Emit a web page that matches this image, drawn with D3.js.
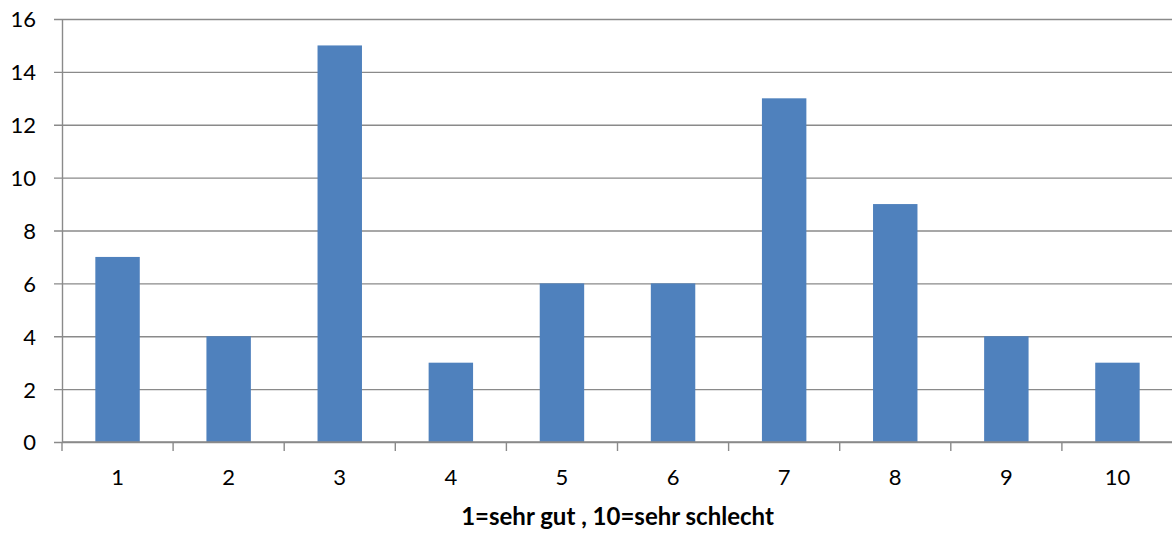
<!DOCTYPE html>
<html>
<head>
<meta charset="utf-8">
<script src="https://cdn.jsdelivr.net/npm/d3@7"></script>
<style>
  html, body { margin: 0; padding: 0; background: #fff; }
  svg { display: block; }
  text { font-family: Lato, "Open Sans", "Liberation Sans", sans-serif; fill: #000; }
</style>
</head>
<body>
<svg id="chart" width="1172" height="534"></svg>
<script>
// Ratings 1..10 and how many answers each got
const categories = ["1", "2", "3", "4", "5", "6", "7", "8", "9", "10"];
const counts = [7, 4, 15, 3, 6, 6, 13, 9, 4, 3];
const yTicks = [0, 2, 4, 6, 8, 10, 12, 14, 16];
const xTitle = "1=sehr gut , 10=sehr schlecht";

const svg = d3.select("#chart");
const plotLeft = 62, plotRight = 1173, plotTop = 19, plotBottom = 442;
const gridColor = "#8a8a8a";

const x = d3.scaleBand().domain(categories).range([plotLeft, plotRight])
  .paddingInner(0.6).paddingOuter(0.3);
const y = d3.scaleLinear().domain([0, 16]).range([plotBottom, plotTop]);

// horizontal gridlines with short ticks left of the axis
const yAxis = d3.axisLeft(y).tickValues(yTicks).tickSize(-(plotRight - plotLeft)).tickSizeOuter(0);
const gy = svg.append("g").attr("transform", `translate(${plotLeft},0)`).call(yAxis);
gy.select(".domain").attr("stroke", gridColor).attr("stroke-width", 1.4);
gy.selectAll(".tick line").attr("stroke", gridColor).attr("stroke-width", 1.4).attr("x1", -8);
gy.selectAll(".tick text").attr("font-size", 22).attr("x", -26).attr("dy", "0.36em")
  .attr("font-family", "Lato, 'Open Sans', sans-serif").attr("fill", "#000");

// bars
svg.append("g").selectAll("rect").data(counts).join("rect")
  .attr("x", (d, i) => x(categories[i]))
  .attr("width", x.bandwidth())
  .attr("y", d => y(d))
  .attr("height", d => y(0) - y(d))
  .attr("fill", "#4F81BD");

// category axis: ticks sit on the band boundaries
const bounds = categories.map(c => x(c) - x.step() * x.paddingInner() / 2);
bounds.push(plotRight);
const gx = svg.append("g");
gx.append("line").attr("x1", plotLeft).attr("x2", plotRight).attr("y1", plotBottom).attr("y2", plotBottom)
  .attr("stroke", gridColor).attr("stroke-width", 1.4);
gx.selectAll("line.tk").data(bounds).join("line").attr("class", "tk")
  .attr("x1", d => d).attr("x2", d => d).attr("y1", plotBottom).attr("y2", plotBottom + 9)
  .attr("stroke", gridColor).attr("stroke-width", 1.4);
gx.selectAll("text").data(categories).join("text")
  .attr("x", d => x(d) + x.bandwidth() / 2)
  .attr("y", 485)
  .attr("text-anchor", "middle")
  .attr("font-size", 22)
  .text(d => d);

// axis title
svg.append("text")
  .attr("x", (plotLeft + plotRight) / 2)
  .attr("y", 525)
  .attr("text-anchor", "middle")
  .attr("font-size", 24)
  .attr("font-weight", "bold")
  .text(xTitle);
</script>
</body>
</html>
